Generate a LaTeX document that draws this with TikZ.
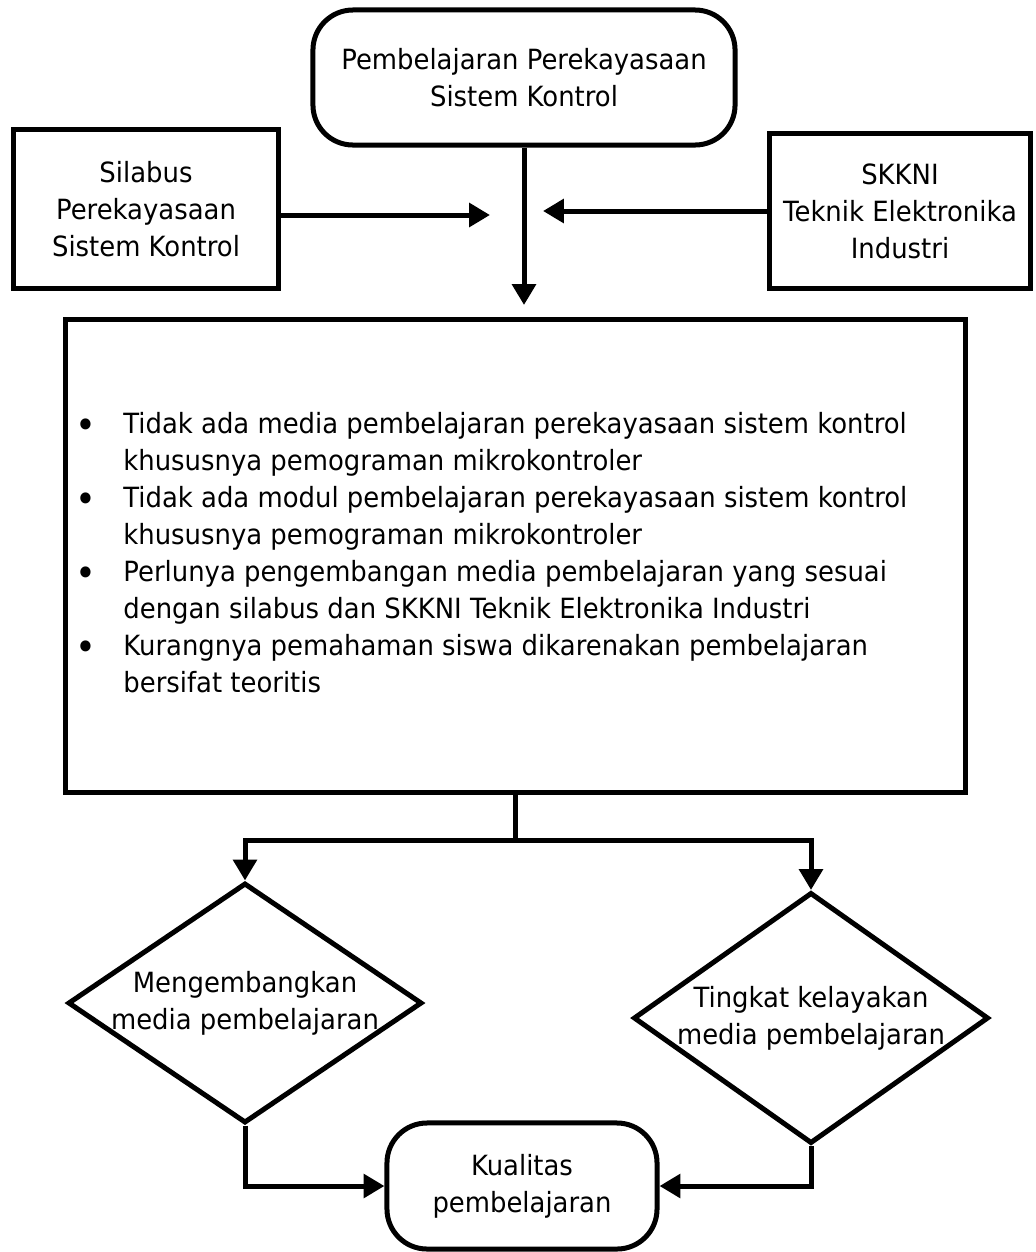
\documentclass[tikz,border=0pt]{standalone}
\usepackage{fontspec}
\setmainfont{DejaVu Sans}[FakeStretch=0.93]
\usetikzlibrary{arrows.meta, shapes.geometric, positioning}

\newcommand{\butir}{\raisebox{-3pt}{\fontsize{27}{27}\selectfont\textbullet}}

\begin{document}
\begin{tikzpicture}[x=0.025cm, y=-0.025cm,
    teks/.style={font=\fontsize{19.8}{26.3}\selectfont},
    garis/.style={line width=0.125cm},
    kotak/.style={draw, garis, rectangle, align=center, inner sep=0, teks},
    kotakbulat/.style={kotak, rounded corners=1cm},
    belah/.style={draw, garis, diamond, inner sep=0, teks},
    panah/.style={garis, -{Triangle[length=0.52cm, width=0.58cm]}}
]
\useasboundingbox (0,0) rectangle (1036,1252);

\node[kotakbulat, minimum width=10.55cm, minimum height=3.375cm] (mapel) at (524,77.5)
    {Pembelajaran Perekayasaan\\Sistem Kontrol};
\node[kotak, minimum width=6.6cm, minimum height=3.95cm] (silabus) at (146,209)
    {Silabus\\Perekayasaan\\Sistem Kontrol};
\node[kotak, minimum width=6.5cm, minimum height=3.85cm] (skkni) at (900,211)
    {SKKNI\\Teknik Elektronika\\Industri};

\node[kotak, minimum width=22.475cm, minimum height=11.8cm] (masalah) at (515.5,556) {%
    \begin{tabular}{@{}p{1.2cm}@{}p{20.8cm}@{}}
    \butir & Tidak ada media pembelajaran perekayasaan sistem kontrol\\
           & khususnya pemograman mikrokontroler\\
    \butir & Tidak ada modul pembelajaran perekayasaan sistem kontrol\\
           & khususnya pemograman mikrokontroler\\
    \butir & Perlunya pengembangan media pembelajaran yang sesuai\\
           & dengan silabus dan SKKNI Teknik Elektronika Industri\\
    \butir & Kurangnya pemahaman siswa dikarenakan pembelajaran\\
           & bersifat teoritis
    \end{tabular}};

\node[belah, minimum width=8.85cm, minimum height=6cm,
    label={[align=center, teks]center:Mengembangkan\\media pembelajaran}] (kembang) at (245,1003) {};
\node[belah, minimum width=8.875cm, minimum height=6.275cm,
    label={[align=center, teks]center:Tingkat kelayakan\\media pembelajaran}] (layak) at (811,1018) {};

\node[kotakbulat, minimum width=6.75cm, minimum height=3.15cm] (kualitas) at (522,1186)
    {Kualitas\\pembelajaran};

% arah masuk
\coordinate (tujuan) at (524,305);
\coordinate (kiri) at (490,215);
\coordinate (kanan) at (543,211);
\draw[panah] (mapel.south) -- (tujuan);
\draw[panah] (silabus.east |- kiri) -- (kiri);
\draw[panah] (skkni.west |- kanan) -- (kanan);

% cabang ke bawah
\path (masalah.south) ++(0,46) coordinate (cabang);
\draw[garis] (masalah.south) -- (cabang);
\draw[panah] (cabang) -| (kembang.north);
\draw[panah] (cabang) -| (layak.north);
\draw[panah] (kembang.south) |- (kualitas.west);
\draw[panah] (layak.south) |- (kualitas.east);
\end{tikzpicture}
\end{document}
